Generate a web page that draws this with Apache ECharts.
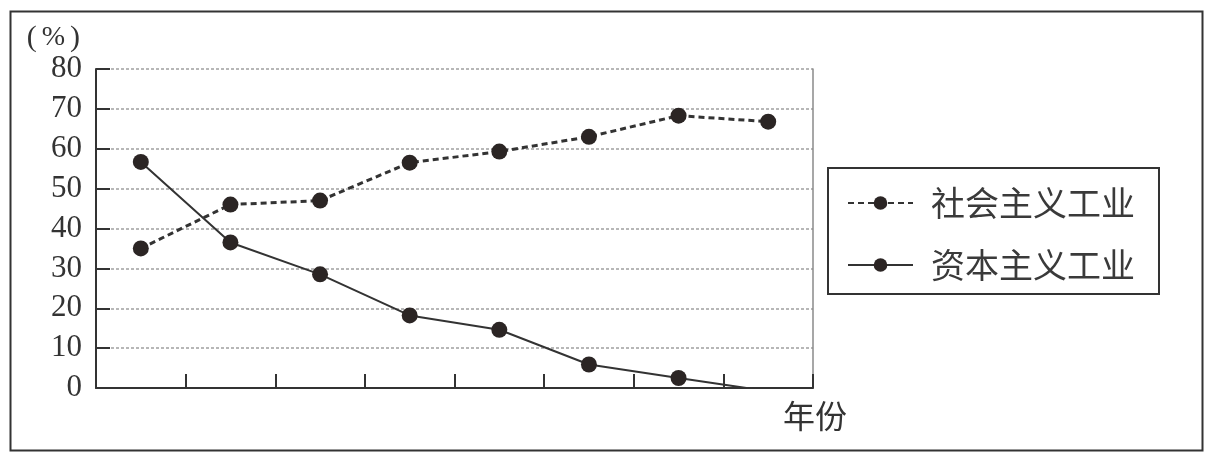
<!DOCTYPE html>
<html><head><meta charset="utf-8">
<script src="https://cdn.jsdelivr.net/npm/echarts@6/dist/echarts.min.js"></script>
<style>html,body{margin:0;padding:0;background:#fff}#c{width:1208px;height:455px}</style>
</head><body><div id="c"></div>
<script>
var categories = ['1', '2', '3', '4', '5', '6', '7', '8'];
var socialist = [35, 46, 47, 56.5, 59.3, 63, 68.3, 66.8];
var capitalist = [56.7, 36.5, 28.5, 18.2, 14.6, 5.9, 2.5, -0.8];
var seriesNames = ['社会主义工业', '资本主义工业'];
var yTicks = [0, 10, 20, 30, 40, 50, 60, 70, 80];

var ink = '#2b2524';
var chart = echarts.init(document.getElementById('c'));
chart.setOption({
  animation: false,
  backgroundColor: '#fff',
  graphic: [{
    type: 'rect', left: 8, top: 9, shape: {width: 1192, height: 439},
    style: {fill: 'none', stroke: '#333', lineWidth: 2}, silent: true
  }],
  grid: {left: 96, right: 395, top: 69, bottom: 67},
  legend: {
    orient: 'vertical', left: 828, top: 168,
    padding: [18, 24, 12, 19], itemGap: 28,
    borderColor: '#333', borderWidth: 2,
    itemWidth: 65, itemHeight: 17,
    textStyle: {fontSize: 34, color: '#3a3a3a', fontFamily: 'Noto Sans CJK SC', padding: [0, 0, 0, 13]},
    data: seriesNames
  },
  xAxis: {
    type: 'category', data: categories, boundaryGap: true,
    name: '年份', nameLocation: 'end', nameGap: 2,
    nameTextStyle: {fontSize: 32, color: '#333', fontFamily: 'Noto Sans CJK SC', align: 'center', verticalAlign: 'top', padding: [12, 0, 0, 0]},
    axisLine: {show: true, onZero: false, lineStyle: {color: '#333', width: 2}},
    axisTick: {show: true, inside: true, length: 14, alignWithLabel: false, lineStyle: {color: '#333', width: 2}},
    axisLabel: {show: false},
    splitLine: {show: false}
  },
  yAxis: [{
    type: 'value', min: 0, max: 80, interval: 10,
    name: '{p|(}{q|%}{p|)}', nameLocation: 'end', nameGap: 31,
    nameTextStyle: {fontSize: 28, color: '#333', fontFamily: 'Liberation Serif', align: 'right', verticalAlign: 'middle', padding: [0, 16, 0, 0],
      rich: {
        p: {fontSize: 30, fontFamily: 'Liberation Serif', color: '#333'},
        q: {fontSize: 28, fontFamily: 'Liberation Serif', color: '#333', padding: [0, 5, 0, 5]}
      }},
    axisLine: {show: true, lineStyle: {color: '#333', width: 2}},
    axisTick: {show: true, inside: true, length: 14, lineStyle: {color: '#333', width: 2}},
    axisLabel: {fontSize: 31, color: '#333', fontFamily: 'Liberation Serif', margin: 14,
      formatter: function (v) { return yTicks.indexOf(v) >= 0 ? String(v) : ''; }},
    splitLine: {show: true, lineStyle: {color: '#a0a0a0', width: 1.5, type: [3, 2]}}
  }, {
    type: 'value', min: 0, max: 80, interval: 10, position: 'right',
    axisLine: {show: true, lineStyle: {color: '#8a8a8a', width: 1.5}},
    axisTick: {show: false}, axisLabel: {show: false}, splitLine: {show: false}
  }],
  series: [{
    name: seriesNames[0], type: 'line', data: socialist,
    symbol: 'circle', symbolSize: 16, showSymbol: true,
    itemStyle: {color: ink},
    lineStyle: {color: '#333', width: 3, type: [6, 4]},
    clip: true, z: 3
  }, {
    name: seriesNames[1], type: 'line',
    data: capitalist.map(function (v, i) { return i === capitalist.length - 1 ? {value: v, symbolSize: 0} : v; }),
    symbol: 'circle', symbolSize: 16, showSymbol: true,
    itemStyle: {color: ink},
    lineStyle: {color: '#333', width: 2},
    clip: true, z: 3
  }]
});
</script></body></html>
